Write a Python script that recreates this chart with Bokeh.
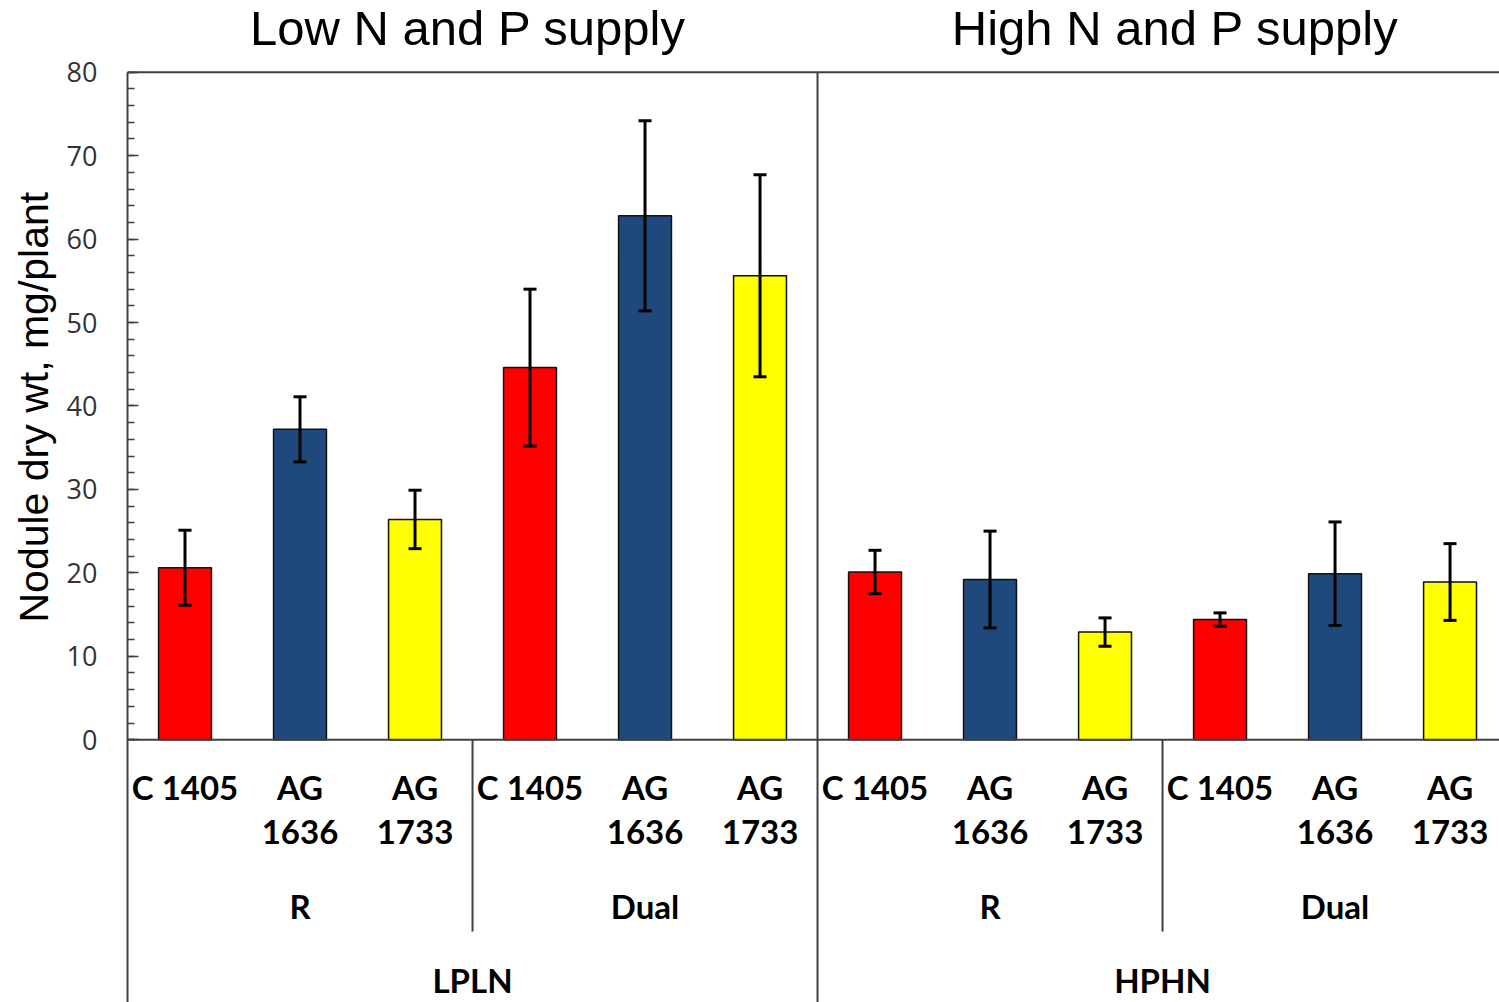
from bokeh.core.properties import value
from bokeh.embed import file_html
from bokeh.models import (ColumnDataSource, FixedTicker, Label, Range1d, Span,
                          TeeHead, Title, Whisker)
from bokeh.plotting import figure
from bokeh.resources import INLINE

# ---- data -----------------------------------------------------------------
supply_titles = ["Low N and P supply", "High N and P supply"]
treatments = ["LPLN", "HPHN"]
inoculations = ["R", "Dual"]
strains = ["C 1405", "AG 1636", "AG 1733"]
strain_colors = ["#FF0000", "#1F497D", "#FFFF00"]

# nodule dry weight (mg/plant), mean and standard error, in the order
# treatment -> inoculation -> strain
nodule_mean = [20.6, 37.2, 26.4, 44.6, 62.8, 55.6,
               20.1, 19.2, 12.9, 14.4, 19.9, 18.9]
nodule_se = [4.5, 3.9, 3.5, 9.4, 11.4, 12.1,
             2.6, 5.8, 1.7, 0.8, 6.2, 4.6]

y_major = [0, 10, 20, 30, 40, 50, 60, 70, 80]
y_minor = list(range(0, 81, 2))
y_label = "Nodule dry wt, mg/plant"

# ---- layout constants -------------------------------------------------------
Y_TOP = 80
Y_MIN, Y_MAX = -31.5, 88.6
X_MAX = 11.93
ROW_STRAIN = -3.3       # top of the strain label rows
ROW_INOC = -19.9        # centre of the inoculation labels
ROW_TREAT = -28.8       # centre of the treatment labels
TITLE_BASE = 85.3
INOC_DIV_BOTTOM = -23.0
BAR_WIDTH = 0.46

n_s = len(strains)
n_i = len(inoculations)

xs, colors, strain_text = [], [], []
for t in range(len(treatments)):
    for i in range(n_i):
        for s in range(n_s):
            k = (t * n_i + i) * n_s + s
            xs.append(k + 0.5)
            colors.append(strain_colors[s])
            strain_text.append(strains[s].replace("AG ", "AG\n"))

src = ColumnDataSource(dict(
    x=xs, top=nodule_mean, color=colors,
    upper=[m + e for m, e in zip(nodule_mean, nodule_se)],
    lower=[m - e for m, e in zip(nodule_mean, nodule_se)],
    label=strain_text,
))

p = figure(width=1499, height=1002, output_backend="svg", toolbar_location=None,
           x_range=Range1d(0, X_MAX), y_range=Range1d(Y_MIN, Y_MAX),
           x_axis_location=None, min_border_left=127, min_border_right=0,
           min_border_top=0, min_border_bottom=0, tools="")
p.outline_line_color = None
p.xgrid.visible = False
p.ygrid.visible = False
p.background_fill_color = "white"
p.border_fill_color = "white"

axis_color = "#404040"

# y axis with inward ticks, line running down through the label table
ax = p.yaxis[0]
ax.ticker = FixedTicker(ticks=y_major, minor_ticks=y_minor)
ax.bounds = (Y_MIN, Y_TOP)
ax.axis_line_color = axis_color
ax.axis_line_width = 2
ax.major_tick_in = 11
ax.major_tick_out = 0
ax.minor_tick_in = 7
ax.minor_tick_out = 0
ax.major_tick_line_color = axis_color
ax.minor_tick_line_color = axis_color
ax.major_tick_line_width = 1.5
ax.minor_tick_line_width = 1.5
ax.major_label_standoff = 30
ax.major_label_text_font = "Open Sans"
ax.major_label_text_font_size = "27px"
ax.major_label_text_color = "#333333"

# y axis title, placed along the 0-80 span
p.add_layout(Title(text=y_label, align="left", offset=380, standoff=14,
                   text_font="Liberation Sans", text_font_size="41px",
                   text_font_style="normal", text_color="black"), "left")

# frame lines: baseline and top border
p.add_layout(Span(location=0, dimension="width", line_color=axis_color, line_width=2))
p.add_layout(Span(location=Y_TOP, dimension="width", line_color=axis_color, line_width=2))

# treatment divider (full height) and inoculation dividers (label table only)
n_group = n_i * n_s
p.segment(x0=[n_group], y0=[Y_MIN], x1=[n_group], y1=[Y_TOP],
          line_color=axis_color, line_width=2)
inoc_div = [t * n_group + n_s for t in range(len(treatments))]
p.segment(x0=inoc_div, y0=[INOC_DIV_BOTTOM] * len(inoc_div), x1=inoc_div,
          y1=[0] * len(inoc_div), line_color=axis_color, line_width=2)

# bars
p.vbar(x="x", top="top", width=BAR_WIDTH, bottom=0, source=src,
       fill_color="color", line_color="#111111", line_width=1.5)

# error bars, drawn over the bars
p.add_layout(Whisker(source=src, base="x", upper="upper", lower="lower",
                     level="overlay", line_color="black", line_width=3,
                     upper_head=TeeHead(size=13, line_color="black", line_width=3),
                     lower_head=TeeHead(size=13, line_color="black", line_width=3)))

# strain labels
p.text(x="x", y=ROW_STRAIN, text="label", source=src,
       text_font=value("Lato"), text_font_style="bold", text_font_size="33px",
       text_align="center", text_baseline="top", text_line_height=1.1,
       text_color="black")

# inoculation labels
inoc_x = [(t * n_i + i) * n_s + n_s / 2 for t in range(len(treatments)) for i in range(n_i)]
inoc_t = [inoculations[i] for t in range(len(treatments)) for i in range(n_i)]
p.text(x=inoc_x, y=[ROW_INOC] * len(inoc_x), text=inoc_t,
       text_font=value("Lato"), text_font_style="bold", text_font_size="33px",
       text_align="center", text_baseline="middle", text_color="black")

# treatment labels
treat_x = [t * n_group + n_group / 2 for t in range(len(treatments))]
p.text(x=treat_x, y=[ROW_TREAT] * len(treat_x), text=treatments,
       text_font=value("Lato"), text_font_style="bold", text_font_size="33px",
       text_align="center", text_baseline="middle", text_color="black")

# panel titles
title_x = [treat_x[0] - 0.04, treat_x[1] + 0.11]
for tx, tt in zip(title_x, supply_titles):
    p.add_layout(Label(x=tx, y=TITLE_BASE, text=tt, text_align="center",
                       text_baseline="alphabetic", text_font="Liberation Sans",
                       text_font_size="49px", text_color="black"))

open("out.html", "w").write(file_html(p, INLINE))
